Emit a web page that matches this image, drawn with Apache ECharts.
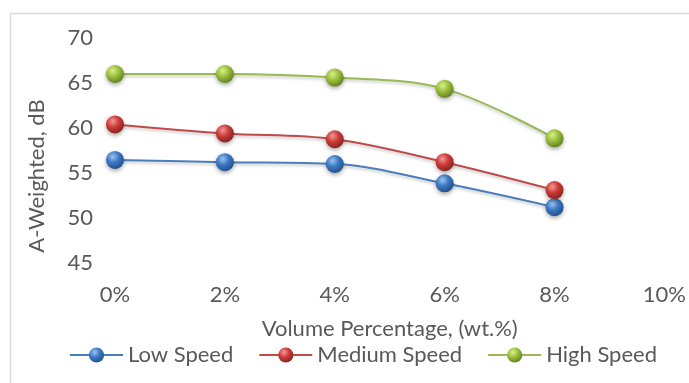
<!DOCTYPE html>
<html>
<head>
<meta charset="utf-8">
<script src="https://cdn.jsdelivr.net/npm/echarts@6/dist/echarts.min.js"></script>
<style>
  html, body { margin: 0; padding: 0; background: #fff; }
  #chart { width: 689px; height: 383px; }
</style>
</head>
<body>
<div id="chart"></div>
<script>
// Noise level against additive volume fraction
const volumePct = [0, 2, 4, 6, 8];
const lowSpeed = [56.45, 56.2, 56.0, 53.85, 51.2];
const mediumSpeed = [60.4, 59.4, 58.75, 56.2, 53.1];
const highSpeed = [66.0, 66.0, 65.6, 64.35, 58.85];
const xTicks = [0, 2, 4, 6, 8, 10];
const yTicks = [45, 50, 55, 60, 65, 70];

const FONT = 'Lato';
const TEXT = '#595959';
const FS = 22;

function pairs(xs, ys) { return xs.map((x, i) => [x, ys[i]]); }

function sphere(light, base, dark) {
  return {
    type: 'radial', x: 0.38, y: 0.32, r: 0.75,
    colorStops: [
      { offset: 0, color: light },
      { offset: 0.45, color: base },
      { offset: 1, color: dark }
    ]
  };
}

function makeSeries(name, values, lineColor, light, base, dark) {
  return {
    name: name,
    type: 'line',
    data: pairs(volumePct, values),
    smooth: 0.35,
    symbol: 'circle',
    symbolSize: 18,
    lineStyle: {
      color: lineColor, width: 2,
      shadowColor: 'rgba(0,0,0,0.22)', shadowBlur: 3, shadowOffsetY: 2
    },
    itemStyle: {
      color: sphere(light, base, dark),
      borderWidth: 0,
      shadowColor: 'rgba(0,0,0,0.35)', shadowBlur: 4, shadowOffsetY: 2
    },
    emphasis: { disabled: true }
  };
}

const chart = echarts.init(document.getElementById('chart'), null, { renderer: 'canvas' });
chart.setOption({
  animation: false,
  backgroundColor: '#ffffff',
  textStyle: { fontFamily: FONT, color: TEXT },
  grid: { left: 115, right: 24, top: 38, bottom: 120, containLabel: false },
  xAxis: {
    type: 'value',
    min: xTicks[0], max: xTicks[xTicks.length - 1], interval: 2,
    axisLine: { show: false }, axisTick: { show: false }, splitLine: { show: false },
    axisLabel: { formatter: v => v + '%', fontSize: FS, color: TEXT, fontFamily: FONT, margin: 21 },
    name: 'Volume Percentage, (wt.%)',
    nameLocation: 'middle', nameGap: 55,
    nameTextStyle: { fontSize: FS, color: TEXT, fontFamily: FONT }
  },
  yAxis: {
    type: 'value',
    min: yTicks[0], max: yTicks[yTicks.length - 1], interval: 5,
    axisLine: { show: false }, axisTick: { show: false }, splitLine: { show: false },
    axisLabel: { fontSize: FS, color: TEXT, fontFamily: FONT, margin: 22 }
  },
  legend: {
    left: 69, top: 344, padding: 0,
    itemWidth: 53, itemHeight: 19, itemGap: 25,
    textStyle: { fontSize: FS, color: TEXT, fontFamily: FONT },
    data: ['Low Speed', 'Medium Speed', 'High Speed']
  },
  graphic: [
    {
      type: 'rect', silent: true,
      shape: { x: 10.5, y: 13.5, width: 700, height: 400 },
      style: { fill: 'none', stroke: '#d9d9d9', lineWidth: 1.5 }
    },
    {
      type: 'text', silent: true,
      x: 37, y: 176, rotation: Math.PI / 2,
      style: {
        text: 'A-Weighted, dB', fontSize: FS, fontFamily: FONT, fill: TEXT,
        align: 'center', verticalAlign: 'middle'
      }
    }
  ],
  series: [
    makeSeries('Low Speed', lowSpeed, '#4a7ebb', '#9cc3f0', '#3d78c4', '#1f4a80'),
    makeSeries('Medium Speed', mediumSpeed, '#be4b48', '#f09a98', '#cc3b38', '#7d1f1d'),
    makeSeries('High Speed', highSpeed, '#98b954', '#d9f08c', '#9bbf3c', '#5a7a1c')
  ]
});
</script>
</body>
</html>
